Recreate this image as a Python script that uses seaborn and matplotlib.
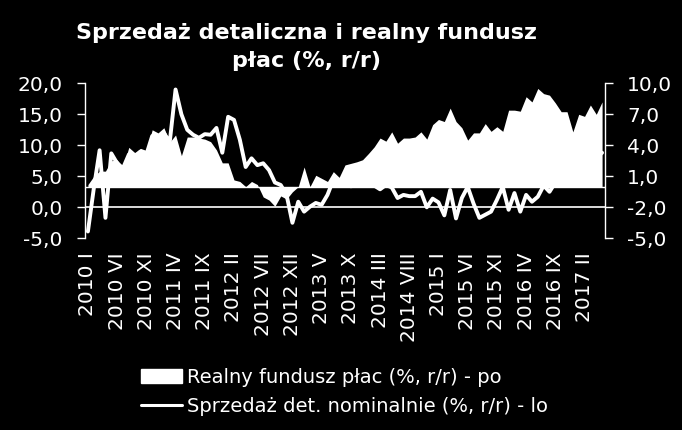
import numpy as np
import pandas as pd
import matplotlib
matplotlib.use("Agg")
import matplotlib.pyplot as plt
import seaborn as sns
from matplotlib.ticker import FuncFormatter
from matplotlib.patches import Patch
from matplotlib.lines import Line2D

# ---- data (monthly, 2010 I .. 2017 V) ----
sales = [-3.9, 3.0, 9.2, -1.7, 8.7, 7.1, 6.3, 8.5, 8.0, 9.0,
         8.5, 11.5, 11.0, 12.0, 10.5, 19.0, 15.0, 12.5, 11.7, 11.2,
         11.8, 11.7, 12.8, 8.8, 14.6, 14.1, 10.9, 6.5, 7.9, 6.8,
         7.1, 6.0, 4.0, 3.6, 2.0, -2.5, 0.9, -0.7, 0.1, 0.7,
         0.4, 2.0, 4.4, 3.9, 3.6, 3.4, 3.5, 3.8, 4.1, 3.5,
         2.9, 3.6, 3.2, 1.5, 2.0, 1.8, 1.8, 2.5, 0.0, 1.4,
         0.8, -1.3, 2.8, -1.8, 1.5, 3.3, 0.6, -1.7, -1.2, -0.7,
         1.2, 3.3, -0.4, 2.3, -0.7, 2.0, 0.9, 1.7, 3.5, 2.5,
         4.0, 5.5, 4.5, 3.8, 6.5, 7.5, 7.0, 8.0, 8.8]
wages = [0.2, 1.0, 1.5, 1.5, 2.5, 2.6, 1.9, 3.8, 3.3, 3.7,
         3.5, 5.5, 5.2, 5.7, 4.3, 5.0, 3.0, 4.8, 4.8, 4.7,
         4.6, 4.35, 3.55, 2.3, 2.3, 0.65, 0.5, 0.0, 0.5, 0.2,
         -1.0, -1.3, -1.9, -0.9, -1.2, -0.5, 0.0, 1.9, 0.0, 1.1,
         0.8, 0.5, 1.45, 0.9, 2.1, 2.25, 2.4, 2.6, 3.2, 3.85,
         4.7, 4.4, 5.3, 4.2, 4.7, 4.7, 4.8, 5.3, 4.6, 6.0,
         6.5, 6.3, 7.6, 6.3, 5.7, 4.5, 5.2, 5.2, 6.1, 5.35,
         5.8, 5.35, 7.4, 7.4, 7.3, 8.7, 8.2, 9.5, 9.0, 8.85,
         8.1, 7.25, 7.25, 5.3, 7.0, 6.8, 7.9, 7.0, 8.2]
tick_labels = ["2010 I", "2010 VI", "2010 XI", "2011 IV", "2011 IX", "2012 II",
               "2012 VII", "2012 XII", "2013 V", "2013 X", "2014 III", "2014 VIII",
               "2015 I", "2015 VI", "2015 XI", "2016 IV", "2016 IX", "2017 II"]
label_step = 5
left_ticks = [-5, 0, 5, 10, 15, 20]
right_ticks = [-5, -2, 1, 4, 7, 10]

title_1 = "Sprzedaż detaliczna i realny fundusz"
title_2 = "płac (%, r/r)"
name_wages = "Realny fundusz płac (%, r/r) - po"
name_sales = "Sprzedaż det. nominalnie (%, r/r) - lo"

df = pd.DataFrame({"idx": np.arange(len(sales)), "sales": sales, "wages": wages})

sns.set_theme(style="white")
plt.rcParams['font.family'] = ['DejaVu Sans']
W, H = 682, 430
fig = plt.figure(figsize=(W / 100, H / 100), dpi=100, facecolor="black")
ax = fig.add_axes([85 / W, 1 - 238.3 / H, 520 / W, 155 / H])
ax.set_facecolor("black")
ax2 = ax.twinx()

# area on right axis
ax2.fill_between(df["idx"], 0, df["wages"], color="white", linewidth=0, zorder=2)
ax2.axhline(0, color="white", lw=1.0, zorder=2)
ax2.set_ylim(-5, 10)

# line on left axis
sns.lineplot(data=df, x="idx", y="sales", ax=ax, color="white", lw=2.8, zorder=3)
ax.axhline(0, color="white", lw=1.2, zorder=1)
ax.set_ylim(-5, 20)
ax.set_xlim(-0.5, len(sales) - 0.5)
ax.set_xlabel("")
ax.set_ylabel("")
ax2.set_ylabel("")

fmt = FuncFormatter(lambda v, p: f"{v:.1f}".replace(".", ","))
ax.set_yticks(left_ticks)
ax.yaxis.set_major_formatter(fmt)
ax2.set_yticks(right_ticks)
ax2.yaxis.set_major_formatter(fmt)

ax.set_xticks(np.arange(0, label_step * len(tick_labels), label_step))
ax.set_xticklabels(tick_labels, rotation=90)

for a in (ax, ax2):
    for s in a.spines.values():
        s.set_visible(False)
ax.spines["left"].set_visible(True)
ax.spines["left"].set_color("white")
ax.spines["left"].set_linewidth(1.0)
ax2.spines["right"].set_visible(True)
ax2.spines["right"].set_color("white")
ax2.spines["right"].set_linewidth(1.0)

ax.tick_params(axis="y", direction="out", length=6, width=1, color="white",
               labelcolor="white", labelsize=14.5, pad=10, left=True)
ax.tick_params(axis="x", length=0, labelcolor="white", labelsize=14.5, pad=10)
ax2.tick_params(axis="y", direction="out", length=6, width=1, color="white",
                labelcolor="white", labelsize=14.5, pad=10, right=True)
ax.grid(False)
ax2.grid(False)

fig.text(307 / W, 1 - 39 / H, title_1, ha="center", va="baseline",
         color="white", fontsize=16, fontweight="bold")
fig.text(307 / W, 1 - 67 / H, title_2, ha="center", va="baseline",
         color="white", fontsize=16, fontweight="bold")

handles = [Patch(facecolor="white", edgecolor="white"),
           Line2D([0], [0], color="white", lw=2.2)]
leg = fig.legend(handles, [name_wages, name_sales], loc="center left",
                 bbox_to_anchor=(141 / W, 1 - 391.7 / H), frameon=False,
                 fontsize=14, handlelength=2.1, handletextpad=0.25,
                 borderaxespad=0, borderpad=0, labelspacing=0.5)
for t in leg.get_texts():
    t.set_color("white")

fig.savefig("out.png", dpi=100, facecolor="black")
